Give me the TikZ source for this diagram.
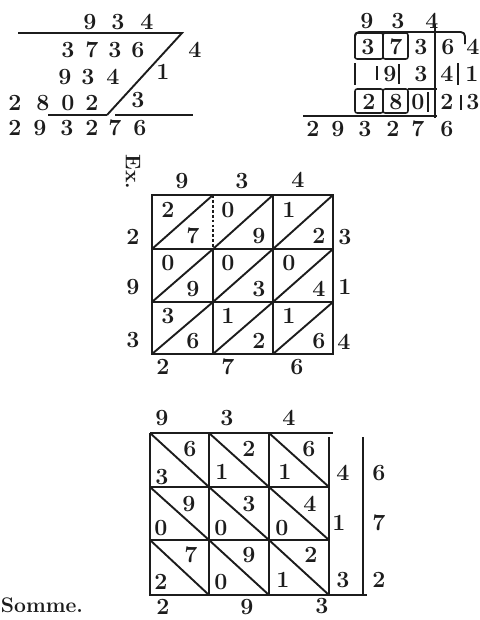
\documentclass[tikz,border=0pt]{standalone}
\definecolor{ink}{RGB}{28,28,28}
\tikzset{
  dig/.style={font=\fontsize{16.5}{16.5}\selectfont\bfseries, text=ink, inner sep=0pt},
  word/.style={font=\fontsize{15}{15}\selectfont\bfseries, text=ink, inner sep=0pt},
  rule/.style={draw=ink, line width=1.35pt},
  frame/.style={draw=ink, line width=1.6pt},
  cellbox/.style={draw=ink, line width=1.1pt, rounded corners=1.5pt},
  dotrule/.style={draw=ink, line width=1.1pt, dash pattern=on 2pt off 1.5pt}
}
\begin{document}
\begin{tikzpicture}[x=0.025cm, y=-0.025cm]
  \fill[white] (0,0) rectangle (480,620);
  \useasboundingbox (0,0) rectangle (480,620);

  % top left: plain multiplication
  \node[dig] (a1) at (90,22)  {9};
  \node[dig] (a2) at (118,22) {3};
  \node[dig] (a3) at (147,22) {4};
  \draw[rule] (18,33) -- (182,33) -- (107,115);
  \node[dig] (p11) at (68,50)  {3};
  \node[dig] (p12) at (92,50)  {7};
  \node[dig] (p13) at (115,50) {3};
  \node[dig] (p14) at (138,50) {6};
  \node[dig] (m1)  at (195,50) {4};
  \node[dig] (p21) at (65,77)  {9};
  \node[dig] (p22) at (88,77)  {3};
  \node[dig] (p23) at (113,77) {4};
  \node[dig] (m2)  at (163,72) {1};
  \node[dig] (p31) at (15,103) {2};
  \node[dig] (p32) at (43,103) {8};
  \node[dig] (p33) at (68,103) {0};
  \node[dig] (p34) at (92,103) {2};
  \node[dig] (m3)  at (138,100) {3};
  \draw[rule] (48,115) -- (107,115);
  \draw[rule] (115,115) -- (193,115);
  \node[dig] (r1) at (15,128)  {2};
  \node[dig] (r2) at (40,128)  {9};
  \node[dig] (r3) at (67,128)  {3};
  \node[dig] (r4) at (92,128)  {2};
  \node[dig] (r5) at (115,128) {7};
  \node[dig] (r6) at (140,128) {6};

  % top right: boxed rows
  \node[dig] (b1) at (367,21) {9};
  \node[dig] (b2) at (398,21) {3};
  \node[dig] (b3) at (432,21) {4};
  \draw[rule, rounded corners=3pt] (355,58) -- (355,32) -- (465,32) -- (465,44);
  \draw[cellbox] (355,33) rectangle (383,59);
  \draw[cellbox] (383,33) rectangle (408,59);
  \draw[rule] (435,24) -- (435,118);
  \node[dig] (q11) at (368,47) {3};
  \node[dig] (q12) at (396,47) {7};
  \node[dig] (q13) at (421,47) {3};
  \node[dig] (q14) at (448,47) {6};
  \node[dig] (n1)  at (473,47) {4};
  \draw[rule] (355,63) -- (355,85);
  \draw[rule] (377,66) -- (377,80);
  \draw[rule] (399,64) -- (399,84);
  \draw[rule] (458,63) -- (458,85);
  \node[dig] (q22) at (390,74) {9};
  \node[dig] (q23) at (421,74) {3};
  \node[dig] (q24) at (447,74) {4};
  \node[dig] (n2)  at (472,74) {1};
  \draw[cellbox] (355,89) rectangle (383,113);
  \draw[cellbox] (383,89) rectangle (408,113);
  \draw[rule] (408,89) -- (437,89);
  \draw[rule] (428,92) -- (428,112);
  \draw[rule] (461,95) -- (461,110);
  \node[dig] (q31) at (369,102) {2};
  \node[dig] (q32) at (396,102) {8};
  \node[dig] (q33) at (418,102) {0};
  \node[dig] (q34) at (447,102) {2};
  \node[dig] (n3)  at (473,102) {3};
  \draw[rule] (303,116) -- (437,116);
  \node[dig] (s1) at (313,129) {2};
  \node[dig] (s2) at (338,129) {9};
  \node[dig] (s3) at (365,129) {3};
  \node[dig] (s4) at (393,129) {2};
  \node[dig] (s5) at (418,129) {7};
  \node[dig] (s6) at (447,129) {6};

  % middle: lattice with rising diagonals
  \node[word, rotate=-90] (ex) at (133,172) {Ex.};
  \node[dig] (c1) at (182,181) {9};
  \node[dig] (c2) at (242,181) {3};
  \node[dig] (c3) at (298,180) {4};
  \draw[frame] (152,195) rectangle (333,354);
  \draw[rule] (152,249) -- (333,249);
  \draw[rule] (152,302) -- (333,302);
  \draw[dotrule] (213,195) -- (213,249);
  \draw[rule] (213,249) -- (213,354);
  \draw[rule] (273,195) -- (273,354);
  \draw[rule] (152,249) -- (213,195);
  \draw[rule] (213,249) -- (273,195);
  \draw[rule] (273,249) -- (333,195);
  \draw[rule] (152,302) -- (213,249);
  \draw[rule] (213,302) -- (273,249);
  \draw[rule] (273,302) -- (333,249);
  \draw[rule] (152,354) -- (213,302);
  \draw[rule] (213,354) -- (273,302);
  \draw[rule] (273,354) -- (333,302);
  \node[dig] (cu11) at (168,210) {2};
  \node[dig] (cl11) at (193,236) {7};
  \node[dig] (cu12) at (228,210) {0};
  \node[dig] (cl12) at (259,236) {9};
  \node[dig] (cu13) at (289,210) {1};
  \node[dig] (cl13) at (319,236) {2};
  \node[dig] (cu21) at (168,263) {0};
  \node[dig] (cl21) at (193,289) {9};
  \node[dig] (cu22) at (228,263) {0};
  \node[dig] (cl22) at (259,289) {3};
  \node[dig] (cu23) at (289,263) {0};
  \node[dig] (cl23) at (319,289) {4};
  \node[dig] (cu31) at (168,316) {3};
  \node[dig] (cl31) at (193,341) {6};
  \node[dig] (cu32) at (228,316) {1};
  \node[dig] (cl32) at (259,341) {2};
  \node[dig] (cu33) at (289,316) {1};
  \node[dig] (cl33) at (319,341) {6};
  \node[dig] (cw1) at (133,237) {2};
  \node[dig] (cw2) at (133,287) {9};
  \node[dig] (cw3) at (133,340) {3};
  \node[dig] (ce1) at (345,237) {3};
  \node[dig] (ce2) at (345,287) {1};
  \node[dig] (ce3) at (344,342) {4};
  \node[dig] (cs1) at (163,367) {2};
  \node[dig] (cs2) at (228,367) {7};
  \node[dig] (cs3) at (297,367) {6};

  % bottom: lattice with falling diagonals
  \node[dig] (d1) at (162,418) {9};
  \node[dig] (d2) at (227,418) {3};
  \node[dig] (d3) at (289,418) {4};
  \draw[frame] (150,433) -- (333,433);
  \draw[frame] (150,433) -- (150,595) -- (367,595);
  \draw[frame] (329,437) -- (329,595);
  \draw[frame] (363,437) -- (363,595);
  \draw[rule] (150,487) -- (329,487);
  \draw[rule] (150,540) -- (329,540);
  \draw[rule] (209,433) -- (209,595);
  \draw[rule] (269,433) -- (269,595);
  \draw[rule] (150,433) -- (209,487);
  \draw[rule] (209,433) -- (269,487);
  \draw[rule] (269,433) -- (329,487);
  \draw[rule] (150,487) -- (209,540);
  \draw[rule] (209,487) -- (269,540);
  \draw[rule] (269,487) -- (329,540);
  \draw[rule] (150,540) -- (209,595);
  \draw[rule] (209,540) -- (269,595);
  \draw[rule] (269,540) -- (329,595);
  \node[dig] (du11) at (190,449) {6};
  \node[dig] (dl11) at (162,477) {3};
  \node[dig] (du12) at (249,449) {2};
  \node[dig] (dl12) at (222,472) {1};
  \node[dig] (du13) at (309,449) {6};
  \node[dig] (dl13) at (285,472) {1};
  \node[dig] (du21) at (189,504) {9};
  \node[dig] (dl21) at (161,528) {0};
  \node[dig] (du22) at (249,504) {3};
  \node[dig] (dl22) at (221,528) {0};
  \node[dig] (du23) at (310,504) {4};
  \node[dig] (dl23) at (282,528) {0};
  \node[dig] (du31) at (191,555) {7};
  \node[dig] (dl31) at (161,582) {2};
  \node[dig] (du32) at (249,555) {9};
  \node[dig] (dl32) at (221,582) {0};
  \node[dig] (du33) at (311,555) {2};
  \node[dig] (dl33) at (283,580) {1};
  \node[dig] (de1) at (343,473) {4};
  \node[dig] (de2) at (339,523) {1};
  \node[dig] (de3) at (343,580) {3};
  \node[dig] (df1) at (379,473) {6};
  \node[dig] (df2) at (379,523) {7};
  \node[dig] (df3) at (379,580) {2};
  \node[word] (sum) at (42,605) {Somme.};
  \node[dig] (ds1) at (163,607) {2};
  \node[dig] (ds2) at (247,607) {9};
  \node[dig] (ds3) at (322,606) {3};
\end{tikzpicture}
\end{document}
